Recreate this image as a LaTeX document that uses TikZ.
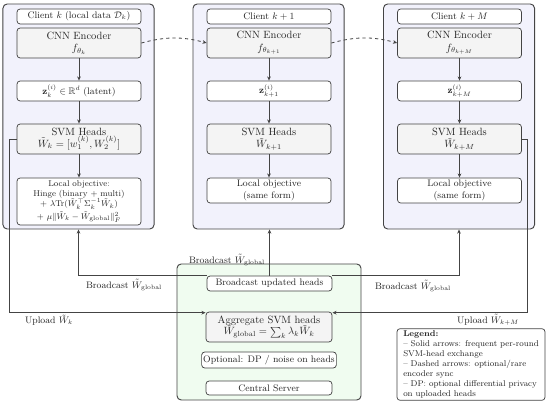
\documentclass[tikz,border=0pt]{standalone}
\usepackage{amsmath, amssymb}
\usetikzlibrary{positioning, arrows.meta}
\definecolor{clientfill}{HTML}{F2F2FC}
\definecolor{serverfill}{HTML}{F0FCF0}
\definecolor{headfill}{HTML}{F4F4F4}
\definecolor{edgegray}{HTML}{444444}

\begin{document}
\begin{tikzpicture}[
    x=0.95pt, y=0.95pt,
    every node/.style={font=\small, text=black!85},
    >={Stealth[length=4pt, width=3.5pt]},
    panel/.style={draw=edgegray, line width=0.9pt, rounded corners=4pt, minimum width=143.5pt, minimum height=213.75pt},
    box/.style={draw=edgegray, line width=0.7pt, rounded corners=3pt, fill=white, minimum width=117.8pt, align=center, inner sep=1.5pt},
    headbox/.style={box, fill=headfill, font=\normalsize, minimum height=28.5pt},
    link/.style={->, draw=edgegray, line width=0.8pt},
    sync/.style={link, dashed},
    tag/.style={font=\small, inner sep=1pt},
  ]
  \useasboundingbox (0,0) rectangle (550,407);

  % client columns
  \node[panel, fill=clientfill] (panelK)  at (78.5,290.5) {};
  \node[panel, fill=clientfill] (panelK1) at (268.5,290.5) {};
  \node[panel, fill=clientfill] (panelKM) at (459,290.5) {};

  \node[box, minimum height=14.25pt] (nameK) at (79,390.5) {Client $k$ (local data $\mathcal{D}_k$)};
  \node[headbox] (encK) at (79,364) {CNN Encoder\\ $f_{\theta_k}$};
  \node[box, minimum height=19pt] (latK) at (79,316) {$\mathbf{z}_k^{(i)} \in \mathbb{R}^d$ (latent)};
  \node[headbox] (svmK) at (79,268) {SVM Heads\\[-1pt] $\tilde{W}_k = [w_1^{(k)}, W_2^{(k)}]$};
  \node[box, minimum height=44.65pt, font=\footnotesize, inner sep=1pt] (objK) at (79,205.5)
    {Local objective:\\[-0.5pt] Hinge (binary + multi)\\[0.5pt]
     $+\ \lambda\mathrm{Tr}(\tilde{W}_k^{\top} \Sigma_k^{-1} \tilde{W}_k)$\\[1pt]
     $+\ \mu\|\tilde{W}_k - \tilde{W}_{\text{global}}\|_F^2$};

  \node[box, minimum height=14.25pt] (nameK1) at (269,390.5) {Client $k+1$};
  \node[headbox] (encK1) at (269,364) {CNN Encoder\\ $f_{\theta_{k+1}}$};
  \node[box, minimum height=19pt] (latK1) at (269,316) {$\mathbf{z}_{k+1}^{(i)}$};
  \node[headbox] (svmK1) at (269,268) {SVM Heads\\ $\tilde{W}_{k+1}$};
  \node[box, minimum height=23.75pt] (objK1) at (269,216.5) {Local objective\\ (same form)};

  \node[box, minimum height=14.25pt] (nameKM) at (459.5,390.5) {Client $k+M$};
  \node[headbox] (encKM) at (459.5,364) {CNN Encoder\\ $f_{\theta_{k+M}}$};
  \node[box, minimum height=19pt] (latKM) at (459.5,316) {$\mathbf{z}_{k+M}^{(i)}$};
  \node[headbox] (svmKM) at (459.5,268) {SVM Heads\\ $\tilde{W}_{k+M}$};
  \node[box, minimum height=23.75pt] (objKM) at (459.5,216.5) {Local objective\\ (same form)};

  \draw[link] (encK) -- (latK);   \draw[link] (latK) -- (svmK);   \draw[link] (svmK) -- (objK);
  \draw[link] (encK1) -- (latK1); \draw[link] (latK1) -- (svmK1); \draw[link] (svmK1) -- (objK1);
  \draw[link] (encKM) -- (latKM); \draw[link] (latKM) -- (svmKM); \draw[link] (svmKM) -- (objKM);

  \draw[sync] (encK.east) to[bend left=15] (encK1.west);
  \draw[sync] (encK1.east) to[bend left=15] (encKM.west);

  % central server
  \node[panel, fill=serverfill, minimum width=174.8pt, minimum height=129.2pt] (server) at (269,75) {};
  \node[box, minimum width=118.75pt, minimum height=14.25pt] (bcast) at (269.5,123.5) {Broadcast updated heads};
  \node[headbox, minimum width=119.7pt] (agg) at (269,80)
    {Aggregate SVM heads\\[-1pt] $\tilde{W}_{\text{global}} = \sum_k \lambda_k \tilde{W}_k$};
  \node[box, minimum width=127.3pt, minimum height=15.2pt] (noise) at (269,47) {Optional: DP / noise on heads};
  \node[box, minimum width=119.7pt, minimum height=13.3pt] (central) at (269,19) {Central Server};

  % per-round head exchange
  \draw[link] (svmK.west) -- ++(-7,0) |- ([yshift=-1pt]agg.north west);
  \draw[link] (svmKM.east) -- ++(6,0) |- ([yshift=-1pt]agg.north east);
  \draw[link] (bcast.north west) -| (panelK.south);
  \draw[link] (bcast.north) -- (bcast.north |- panelK1.south);
  \draw[link] (bcast.north east) -| (panelKM.south);

  \node[tag] (upK) at (49,87) {Upload $\tilde{W}_k$};
  \node[tag] (upKM) at (488,87) {Upload $\tilde{W}_{k+M}$};
  \node[tag] (downK) at (124,122) {Broadcast $\tilde{W}_{\text{global}}$};
  \node[tag] (downK1) at (227,147) {Broadcast $\tilde{W}_{\text{global}}$};
  \node[tag] (downKM) at (413,121) {Broadcast $\tilde{W}_{\text{global}}$};

  \node[box, minimum width=140.6pt, minimum height=61.75pt, align=left, font=\footnotesize, inner sep=2pt] (legend) at (471,42.5)
    {\textbf{Legend:}\\
     -- Solid arrows: frequent per-round\\
     SVM-head exchange\\
     -- Dashed arrows: optional/rare\\
     encoder sync\\
     -- DP: optional differential privacy\\
     on uploaded heads};
\end{tikzpicture}
\end{document}
